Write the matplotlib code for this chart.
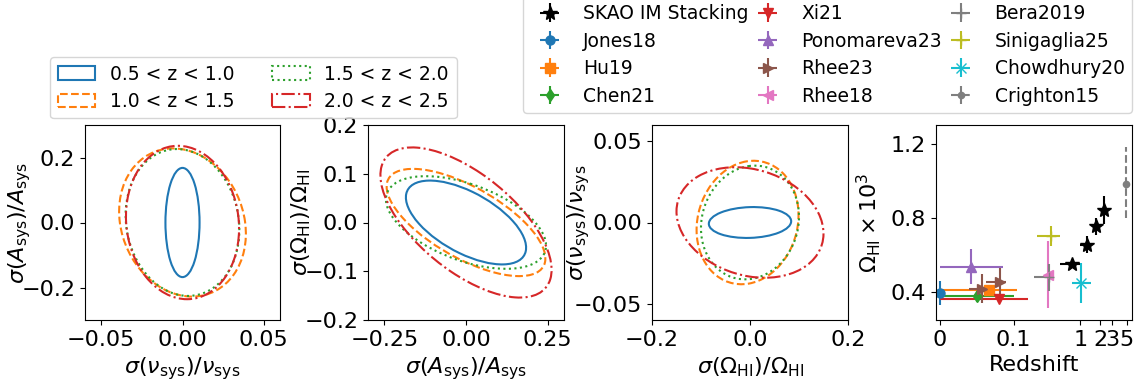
import numpy as np
import matplotlib
matplotlib.use("Agg")
import matplotlib.pyplot as plt
from matplotlib.patches import Ellipse

# ---------------- data ----------------
bin_labels = ["0.5 < z < 1.0", "1.0 < z < 1.5", "1.5 < z < 2.0", "2.0 < z < 2.5"]
bin_colors = ["tab:blue", "tab:orange", "tab:green", "tab:red"]
bin_styles = ["-", "--", ":", "-."]

# panel 1: sigma(nu_sys)/nu_sys (x) vs sigma(A_sys)/A_sys (y)
p1_sx = [0.0105, 0.0390, 0.0350, 0.0348]
p1_sy = [0.168, 0.228, 0.226, 0.236]
p1_rho = [0.0, -0.15, -0.10, -0.08]
p1_cx = [0.0, 0.0, 0.0, 0.0]

# panel 2: sigma(A_sys)/A_sys (x) vs sigma(Omega_HI)/Omega_HI (y)
p2_sx = [0.184, 0.243, 0.245, 0.262]
p2_sy = [0.086, 0.110, 0.095, 0.154]
p2_rho = [-0.60, -0.67, -0.50, -0.63]
p2_cx = [0.0, 0.0, 0.0, 0.0]

# panel 3: sigma(Omega_HI)/Omega_HI (x) vs sigma(nu_sys)/nu_sys (y)
p3_sx = [0.084, 0.104, 0.100, 0.150]
p3_sy = [0.0095, 0.038, 0.035, 0.034]
p3_rho = [0.08, 0.12, 0.10, -0.20]
p3_cx = [0.0, -0.005, 0.0, 0.0]

# panel 4: Omega_HI x 10^3 measurements
skao_z = [0.75, 1.25, 1.75, 2.25]
skao_zerr = [0.25, 0.25, 0.25, 0.25]
skao_om = [0.553, 0.655, 0.755, 0.843]
skao_omerr = [0.012, 0.045, 0.045, 0.076]

lit_names = ["Jones18", "Hu19", "Chen21", "Xi21", "Ponomareva23", "Rhee23",
             "Rhee18", "Bera2019", "Sinigaglia25", "Chowdhury20", "Crighton15"]
lit_colors = ["tab:blue", "tab:orange", "tab:green", "tab:red", "tab:purple",
              "tab:brown", "tab:pink", "tab:gray", "tab:olive", "tab:cyan", "tab:gray"]
lit_markers = ["o", "s", "d", "v", "^", ">", "<", "+", "+", "x", "o"]
lit_z = [[0.0], [0.066], [0.05], [0.08], [0.043], [0.057, 0.081],
         [0.33], [0.34], [0.37], [1.02], [4.9]]
lit_zlo = [[0.0], [0.066], [0.05], [0.08], [0.042], [0.017, 0.018],
           [0.0], [0.135], [0.146], [0.27], [0.0]]
lit_zhi = [[0.0], [0.046], [0.05], [0.083], [0.042], [0.006, 0.008],
           [0.0], [0.065], [0.125], [0.43], [0.0]]
lit_om = [[0.396], [0.412], [0.377], [0.365], [0.538], [0.418, 0.457],
          [0.494], [0.48], [0.70], [0.449], [0.98]]
lit_omlo = [[0.063], [0.01], [0.03], [0.026], [0.095], [0.078, 0.072],
            [0.18], [0.072], [0.054], [0.11], [0.18]]
lit_omhi = [[0.063], [0.01], [0.03], [0.026], [0.095], [0.078, 0.072],
            [0.18], [0.072], [0.054], [0.11], [0.20]]

z_ticks = [0, 0.1, 1, 2, 3, 5]
z_ticklabels = ["0", "0.1", "1", "2", "3", "5"]

# ---------------- figure ----------------
plt.rcParams["font.size"] = 16
plt.rcParams["axes.unicode_minus"] = True

W, H = 1145, 387
fig = plt.figure(figsize=(W / 100, H / 100), dpi=100)

def frac_axes(left_px, top_px, w_px, h_px):
    return fig.add_axes([left_px / W, 1 - (top_px + h_px) / H, w_px / W, h_px / H])

ax1 = frac_axes(85, 125, 195, 195)
ax2 = frac_axes(368, 125, 196, 195)
ax3 = frac_axes(652, 125, 196, 195)
ax4 = frac_axes(936, 125, 196, 195)


def draw_ellipses(ax, sx, sy, rho, cx):
    handles = []
    for i in range(len(sx)):
        c = rho[i] * sx[i] * sy[i]
        cov = np.array([[sx[i] ** 2, c], [c, sy[i] ** 2]])
        vals, vecs = np.linalg.eigh(cov)
        width = 2 * np.sqrt(vals[1])
        height = 2 * np.sqrt(vals[0])
        angle = np.degrees(np.arctan2(vecs[1, 1], vecs[0, 1]))
        e = Ellipse((cx[i], 0.0), width, height, angle=angle, fill=False,
                    edgecolor=bin_colors[i], linestyle=bin_styles[i], lw=1.5,
                    label=bin_labels[i])
        ax.add_patch(e)
        handles.append(e)
    return handles


handles_bins = draw_ellipses(ax1, p1_sx, p1_sy, p1_rho, p1_cx)
draw_ellipses(ax2, p2_sx, p2_sy, p2_rho, p2_cx)
draw_ellipses(ax3, p3_sx, p3_sy, p3_rho, p3_cx)

ax1.set_xlim(-0.06, 0.06)
ax1.set_ylim(-0.3, 0.3)
ax1.set_xticks([-0.05, 0.0, 0.05])
ax1.set_xticklabels(["\u22120.05", "0.00", "0.05"])
ax1.set_yticks([-0.2, 0.0, 0.2])
ax1.set_yticklabels(["\u22120.2", "0.0", "0.2"])
ax1.set_xlabel(r"$\sigma(\nu_{\rm sys})/\nu_{\rm sys}$")
ax1.set_ylabel(r"$\sigma(A_{\rm sys})/A_{\rm sys}$")

ax2.set_xlim(-0.3, 0.3)
ax2.set_ylim(-0.2, 0.2)
ax2.set_xticks([-0.25, 0.0, 0.25])
ax2.set_xticklabels(["\u22120.25", "0.00", "0.25"])
ax2.set_yticks([-0.2, -0.1, 0.0, 0.1, 0.2])
ax2.set_yticklabels(["\u22120.2", "\u22120.1", "0.0", "0.1", "0.2"])
ax2.set_xlabel(r"$\sigma(A_{\rm sys})/A_{\rm sys}$")
ax2.set_ylabel(r"$\sigma(\Omega_{\rm HI})/\Omega_{\rm HI}$")

ax3.set_xlim(-0.2, 0.2)
ax3.set_ylim(-0.06, 0.06)
ax3.set_xticks([-0.2, 0.0, 0.2])
ax3.set_xticklabels(["\u22120.2", "0.0", "0.2"])
ax3.set_yticks([-0.05, 0.0, 0.05])
ax3.set_yticklabels(["\u22120.05", "0.00", "0.05"])
ax3.set_xlabel(r"$\sigma(\Omega_{\rm HI})/\Omega_{\rm HI}$")
ax3.set_ylabel(r"$\sigma(\nu_{\rm sys})/\nu_{\rm sys}$")

# panel 4
ax4.set_xscale("symlog", linthresh=0.1, linscale=1.0)
eb_handles = []
eb = ax4.errorbar(skao_z, skao_om, xerr=skao_zerr, yerr=skao_omerr, fmt="*",
                  color="black", ms=10, label="SKAO IM Stacking", zorder=5)
eb_handles.append(eb)
for i, name in enumerate(lit_names):
    ms = 4.5 if name == "Crighton15" else 6.5
    eb = ax4.errorbar(lit_z[i], lit_om[i],
                      xerr=[lit_zlo[i], lit_zhi[i]],
                      yerr=[lit_omlo[i], lit_omhi[i]],
                      fmt=lit_markers[i], color=lit_colors[i], ms=ms, label=name)
    if name == "Crighton15":
        for lc in eb[2]:
            lc.set_linestyle("--")
    eb_handles.append(eb)

ax4.set_xlim(-0.005, 6)
ax4.set_ylim(0.25, 1.3)
ax4.set_xticks(z_ticks)
ax4.set_xticklabels(z_ticklabels)
ax4.xaxis.set_minor_locator(matplotlib.ticker.NullLocator())
ax4.set_yticks([0.4, 0.8, 1.2])
ax4.set_yticklabels(["0.4", "0.8", "1.2"])
ax4.set_xlabel("Redshift")
ax4.set_ylabel(r"$\Omega_{\rm HI}\times 10^3$")

# y-label positions
ax1.yaxis.set_label_coords(-0.267, 0.5)
ax2.yaxis.set_label_coords(-0.28, 0.5)
ax3.yaxis.set_label_coords(-0.306, 0.5)
ax4.yaxis.set_label_coords(-0.27, 0.5)

# legends
leg_fs = 13.5
fig.legend(handles=handles_bins, loc="upper left", ncol=2, fontsize=leg_fs,
           bbox_to_anchor=(50 / W, 1 - 57 / H), borderaxespad=0,
           labelspacing=0.45, columnspacing=2.0)
fig.legend(handles=eb_handles, loc="lower right", ncol=3, fontsize=leg_fs,
           bbox_to_anchor=(1132 / W, 1 - 113 / H), borderaxespad=0,
           labelspacing=0.45, columnspacing=0.0)

fig.savefig("out.png", dpi=100)
